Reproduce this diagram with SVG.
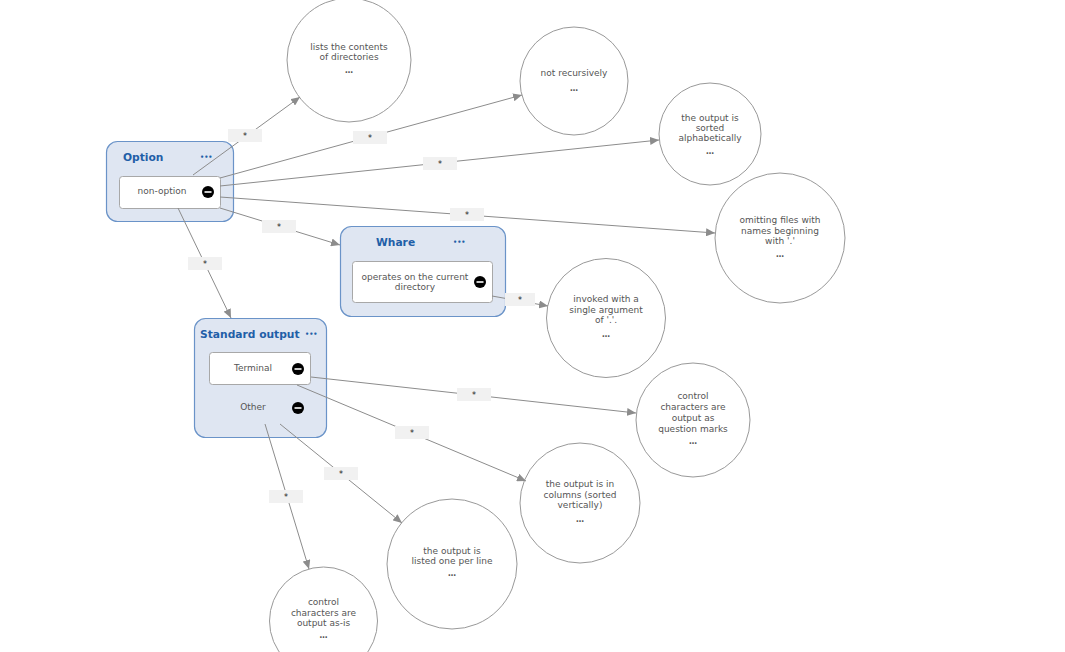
<svg xmlns="http://www.w3.org/2000/svg" width="1065" height="652" viewBox="0 0 1065 652">
<style>
.grp{fill:#dfe6f2;stroke:#6a93c8;stroke-width:1.2}
.inner{fill:#fff;stroke:#a8a8a8;stroke-width:1}
.title{font-family:"DejaVu Sans",sans-serif;font-weight:bold;font-size:10.7px;fill:#1f5fa8}
.dots{font-family:"DejaVu Sans",sans-serif;font-weight:bold;font-size:6.5px;fill:#1f5fa8}
.t{font-family:"DejaVu Sans",sans-serif;font-size:9px;fill:#555;text-anchor:middle}
.el{font-family:"DejaVu Sans",sans-serif;font-size:8px;font-weight:bold;fill:#555;text-anchor:middle}
.circ{fill:#fff;stroke:#999;stroke-width:1}
.edge{stroke:#8c8c8c;stroke-width:1;fill:none;marker-end:url(#arr)}
.lbl{fill:#f1f1f1}
.ast{font-family:"DejaVu Sans",sans-serif;font-size:8px;fill:#222;text-anchor:middle}
.mb{fill:#000}
.mw{stroke:#fff;stroke-width:1.6}
</style>
<defs>
<marker id="arr" markerUnits="userSpaceOnUse" markerWidth="10" markerHeight="8" refX="9" refY="4" orient="auto">
<path d="M0,0 L9,4 L0,8 z" fill="#8c8c8c"/>
</marker>
</defs>
<rect width="1065" height="652" fill="#fff"/>

<g id="option">
<rect class="grp" x="106.5" y="141.5" width="127" height="80" rx="11"/>
<text class="title" x="123" y="161">Option</text>
<text class="dots" x="200" y="159">•••</text>
<g id="non-option">
<rect class="inner" x="119.5" y="176.5" width="101" height="32" rx="3"/>
<text class="t" x="162" y="194">non-option</text>
<circle class="mb" cx="208" cy="192" r="6"/><line class="mw" x1="204.5" y1="192" x2="211.5" y2="192"/>
</g>
</g>

<g id="whare">
<rect class="grp" x="340.5" y="226.5" width="165" height="90" rx="11"/>
<text class="title" x="376" y="246">Whare</text>
<text class="dots" x="453" y="244">•••</text>
<g id="operates">
<rect class="inner" x="352.5" y="261.5" width="140" height="41" rx="3"/>
<text class="t" x="415" y="280">operates on the current</text>
<text class="t" x="415" y="290">directory</text>
<circle class="mb" cx="480" cy="282" r="6"/><line class="mw" x1="476.5" y1="282" x2="483.5" y2="282"/>
</g>
</g>

<g id="stdout">
<rect class="grp" x="194.5" y="318.5" width="132" height="119" rx="11"/>
<text class="title" x="200" y="338">Standard output</text>
<text class="dots" x="305" y="336">•••</text>
<g id="terminal">
<rect class="inner" x="209.5" y="352.5" width="101" height="32" rx="3"/>
<text class="t" x="253" y="371">Terminal</text>
<circle class="mb" cx="298" cy="369" r="6"/><line class="mw" x1="294.5" y1="369" x2="301.5" y2="369"/>
</g>
<g id="other">
<text class="t" x="253" y="410">Other</text>
<circle class="mb" cx="298" cy="408" r="6"/><line class="mw" x1="294.5" y1="408" x2="301.5" y2="408"/>
</g>
</g>

<g id="c1"><circle class="circ" cx="349" cy="60" r="62"/>
<text class="t" x="349" y="50">lists the contents</text><text class="t" x="349" y="60">of directories</text><text class="el" x="349" y="73">…</text></g>
<g id="c2"><circle class="circ" cx="574" cy="81" r="54"/>
<text class="t" x="574" y="76">not recursively</text><text class="el" x="574" y="91">…</text></g>
<g id="c3"><circle class="circ" cx="710" cy="134" r="51"/>
<text class="t" x="710" y="121">the output is</text><text class="t" x="710" y="131">sorted</text><text class="t" x="710" y="141">alphabetically</text><text class="el" x="710" y="154">…</text></g>
<g id="c4"><circle class="circ" cx="780" cy="238" r="65"/>
<text class="t" x="780" y="223">omitting files with</text><text class="t" x="780" y="234">names beginning</text><text class="t" x="780" y="244">with '.'</text><text class="el" x="780" y="257">…</text></g>
<g id="c5"><circle class="circ" cx="606" cy="318" r="59.5"/>
<text class="t" x="606" y="302">invoked with a</text><text class="t" x="606" y="313">single argument</text><text class="t" x="606" y="323">of '.'.</text><text class="el" x="606" y="337">…</text></g>
<g id="c6"><circle class="circ" cx="693" cy="420" r="57"/>
<text class="t" x="693" y="399">control</text><text class="t" x="693" y="410">characters are</text><text class="t" x="693" y="421">output as</text><text class="t" x="693" y="432">question marks</text><text class="el" x="693" y="444">…</text></g>
<g id="c7"><circle class="circ" cx="580" cy="503" r="60"/>
<text class="t" x="580" y="487">the output is in</text><text class="t" x="580" y="498">columns (sorted</text><text class="t" x="580" y="508">vertically)</text><text class="el" x="580" y="522">…</text></g>
<g id="c8"><circle class="circ" cx="452" cy="564" r="65"/>
<text class="t" x="452" y="554">the output is</text><text class="t" x="452" y="564">listed one per line</text><text class="el" x="452" y="576">…</text></g>
<g id="c9"><circle class="circ" cx="323.5" cy="621" r="54"/>
<text class="t" x="323.5" y="605">control</text><text class="t" x="323.5" y="616">characters are</text><text class="t" x="323.5" y="626">output as-is</text><text class="el" x="323.5" y="638">…</text></g>

<g id="connectors">
<line class="edge" x1="193" y1="175" x2="300" y2="97"/>
<line class="edge" x1="220" y1="178" x2="522" y2="95"/>
<line class="edge" x1="220" y1="186" x2="659" y2="140"/>
<line class="edge" x1="220" y1="197" x2="715" y2="233"/>
<line class="edge" x1="220" y1="208" x2="340" y2="245"/>
<line class="edge" x1="178" y1="208" x2="231" y2="318"/>
<line class="edge" x1="492" y1="296" x2="548" y2="306"/>
<line class="edge" x1="311" y1="377" x2="636" y2="413"/>
<line class="edge" x1="297" y1="385" x2="526" y2="481"/>
<line class="edge" x1="280" y1="424" x2="402" y2="523"/>
<line class="edge" x1="265" y1="424" x2="309" y2="569"/>
<g id="labels">
<rect class="lbl" x="228" y="129" width="34" height="13"/><text class="ast" x="245" y="139">*</text>
<rect class="lbl" x="353" y="131" width="34" height="13"/><text class="ast" x="370" y="141">*</text>
<rect class="lbl" x="423" y="157" width="34" height="13"/><text class="ast" x="440" y="167">*</text>
<rect class="lbl" x="450" y="208" width="34" height="13"/><text class="ast" x="467" y="218">*</text>
<rect class="lbl" x="262" y="220" width="34" height="13"/><text class="ast" x="279" y="230">*</text>
<rect class="lbl" x="188" y="257" width="34" height="13"/><text class="ast" x="205" y="267">*</text>
<rect class="lbl" x="505" y="293" width="30" height="13"/><text class="ast" x="520" y="303">*</text>
<rect class="lbl" x="457" y="388" width="34" height="13"/><text class="ast" x="474" y="398">*</text>
<rect class="lbl" x="395" y="426" width="34" height="13"/><text class="ast" x="412" y="436">*</text>
<rect class="lbl" x="324" y="467" width="34" height="13"/><text class="ast" x="341" y="477">*</text>
<rect class="lbl" x="269" y="490" width="34" height="13"/><text class="ast" x="286" y="500">*</text>
</g>
</g>
</svg>
